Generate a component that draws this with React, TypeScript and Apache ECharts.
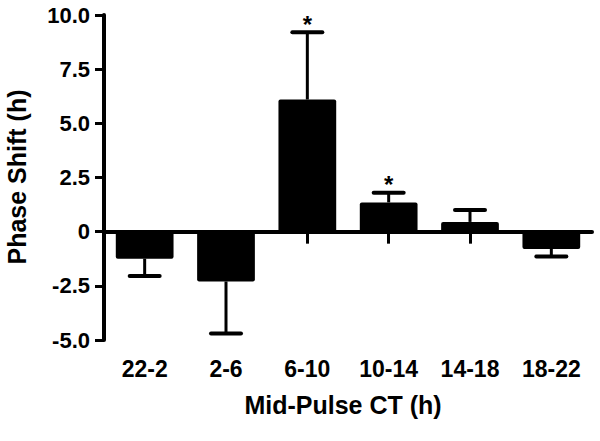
import React, { useEffect, useRef } from "react";
import * as echarts from "echarts";

const categories = ["22-2", "2-6", "6-10", "10-14", "14-18", "18-22"];
const means = [-1.25, -2.3, 6.1, 1.35, 0.45, -0.8];
const errors = [0.8, 2.4, 3.1, 0.45, 0.55, 0.35];
const significant = [0, 0, 1, 1, 0, 0];
const yTicks = [-5, -2.5, 0, 2.5, 5, 7.5, 10];

const FONT = "'Liberation Sans', Arial, Helvetica, sans-serif";

export default function App() {
  const ref = useRef<HTMLDivElement>(null);
  useEffect(() => {
    if (!ref.current) return;
    const chart = echarts.init(ref.current, null, { renderer: "svg" });
    const errData = categories.map((_, i) => [i, means[i], errors[i], significant[i]]);
    chart.setOption({
      animation: false,
      backgroundColor: "#ffffff",
      grid: { left: 104, right: 8, top: 15, bottom: 101, containLabel: false, outerBoundsMode: "none" },
      xAxis: {
        type: "category",
        data: categories,
        boundaryGap: true,
        axisLine: { onZero: true, lineStyle: { color: "#000", width: 4 } },
        axisTick: { show: true, alignWithLabel: true, length: 12, lineStyle: { color: "#000", width: 3 } },
        axisLabel: {
          margin: 17,
          color: "#000",
          fontFamily: FONT,
          fontWeight: "bold",
          fontSize: 23,
        },
        splitLine: { show: false },
      },
      yAxis: {
        type: "value",
        min: yTicks[0],
        max: yTicks[yTicks.length - 1],
        interval: 2.5,
        axisLine: { show: true, onZero: false, lineStyle: { color: "#000", width: 4 } },
        axisTick: { show: true, length: 9, lineStyle: { color: "#000", width: 3 } },
        axisLabel: {
          margin: 14,
          color: "#000",
          fontFamily: FONT,
          fontWeight: "bold",
          fontSize: 22,
          formatter: (v: number) => (v === 0 ? "0" : v.toFixed(1)),
        },
        splitLine: { show: false },
      },
      series: [
        {
          type: "bar",
          data: means,
          barWidth: "71%",
          itemStyle: { color: "#000", borderRadius: 2 },
          z: 2,
        },
        {
          type: "custom",
          data: errData,
          encode: { x: 0, y: 1 },
          z: 3,
          renderItem: (params: any, api: any) => {
            const idx = api.value(0);
            const mean = api.value(1);
            const err = api.value(2);
            const sig = api.value(3);
            const dir = mean >= 0 ? 1 : -1;
            const base = api.coord([idx, mean]);
            const end = api.coord([idx, mean + dir * err]);
            const children: any[] = [
              {
                type: "line",
                shape: { x1: base[0], y1: base[1], x2: end[0], y2: end[1] },
                style: { stroke: "#000", lineWidth: 3 },
              },
              {
                type: "line",
                shape: { x1: end[0] - 15, y1: end[1], x2: end[0] + 15, y2: end[1] },
                style: { stroke: "#000", lineWidth: 4, lineCap: "round" },
              },
            ];
            if (sig) {
              children.push({
                type: "text",
                x: end[0],
                y: end[1] - 8,
                style: {
                  text: "*",
                  fill: "#000",
                  font: `bold 24px ${FONT}`,
                  align: "center",
                  verticalAlign: "middle",
                },
              });
            }
            return { type: "group", children };
          },
        },
      ],
      graphic: [
        {
          type: "text",
          x: 343,
          y: 405,
          style: {
            text: "Mid-Pulse CT (h)",
            fill: "#000",
            font: `bold 25px ${FONT}`,
            align: "center",
            verticalAlign: "middle",
          },
        },
        {
          type: "text",
          x: 17,
          y: 177,
          rotation: Math.PI / 2,
          style: {
            text: "Phase Shift (h)",
            fill: "#000",
            font: `bold 25px ${FONT}`,
            align: "center",
            verticalAlign: "middle",
          },
        },
      ],
    });
    return () => chart.dispose();
  }, []);
  return (
    <div
      ref={ref}
      style={{ position: "fixed", left: 0, top: 0, width: 600, height: 441, background: "#fff" }}
    />
  );
}
